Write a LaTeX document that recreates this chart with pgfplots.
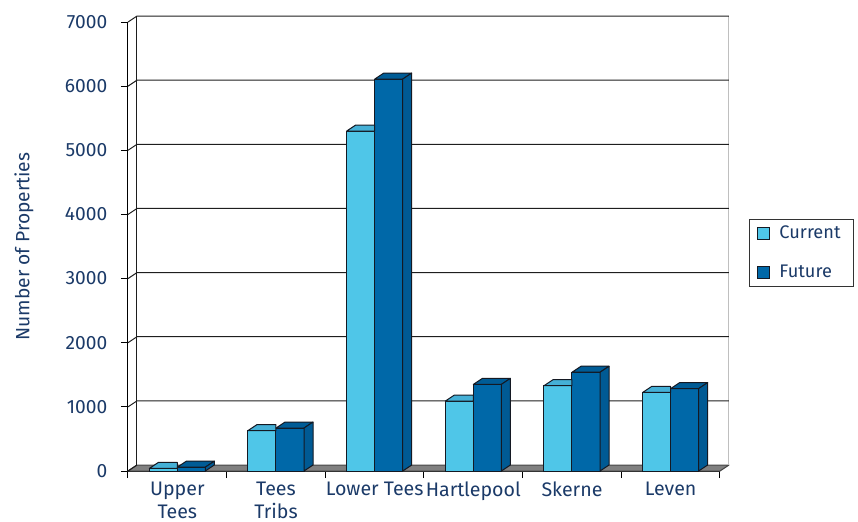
\documentclass[border=0pt]{standalone}
\usepackage{pgfplots}
\pgfplotsset{compat=1.18}
\usepackage{pgfplotstable}
\usepackage{fontspec}
\setmainfont{Fira Sans}
\definecolor{curfront}{RGB}{79,198,232}
\definecolor{curtop}{RGB}{69,176,214}
\definecolor{futfront}{RGB}{0,104,168}
\definecolor{futtop}{RGB}{0,92,150}
\definecolor{futside}{RGB}{0,90,148}
\definecolor{navy}{RGB}{27,58,104}
\definecolor{barline}{RGB}{20,25,35}
\definecolor{floorc}{RGB}{128,128,128}
\definecolor{flooredge}{RGB}{70,70,70}
\definecolor{gridc}{RGB}{30,30,30}

\pgfplotstableread{
x cur fut
0 40 60
1 630 670
2 5300 6110
3 1090 1350
4 1330 1540
5 1225 1285
}\data

% top face of the front (current) bar: its side is hidden behind the future bar
\pgfdeclareplotmark{cubecur}{%
  \path[fill=curtop,draw=barline,line width=0.5pt,line join=round]
    (-7pt,0pt) -- (-2.5pt,3pt) -- (7pt,3pt) -- (7pt,0pt) -- cycle;
}
\pgfdeclareplotmark{cubefut}{%
  \pgfmathsetlengthmacro\Hneg{-\h*0.0320714pt}%
  \pgfmathsetlengthmacro\Htop{3pt-\h*0.0320714pt}%
  \path[fill=futtop,draw=barline,line width=0.5pt,line join=round]
    (-7pt,0pt) -- (-2.5pt,3pt) -- (11.5pt,3pt) -- (7pt,0pt) -- cycle;
  \path[fill=futside,draw=barline,line width=0.5pt,line join=round]
    (7pt,0pt) -- (11.5pt,3pt) -- (11.5pt,\Htop) -- (7pt,\Hneg) -- cycle;
}

\begin{document}
\begin{tikzpicture}
\useasboundingbox (-64pt,-25pt) rectangle (365pt,235.5pt);
\begin{axis}[
  at={(0pt,0pt)}, anchor=south west,
  x=49.3333pt, y=0.0320714pt,
  xmin=-0.5, xmax=5.5, ymin=0, ymax=7000,
  clip=false,
  axis x line*=bottom, axis y line*=left,
  axis line style={black, line width=0.5pt},
  tick align=outside,
  major tick length=3.5pt,
  tick style={black, line width=0.5pt},
  ytick={0,1000,...,7000},
  xtick={-0.5,0.5,...,5.5},
  xticklabels={{Upper\\Tees},{Tees\\Tribs},{Lower Tees},{Hartlepool},{Skerne},{Leven},{}},
  xticklabel style={align=center, xshift=24.667pt, inner ysep=0pt, yshift=-1.6pt, font=\fontsize{9.8}{11.8}\selectfont, text=navy},
  yticklabel style={font=\fontsize{9.6}{11}\selectfont, text=navy, xshift=-3.3pt},
  /pgf/number format/assume math mode=true,
  /pgf/number format/1000 sep={},
  ylabel={Number of Properties},
  ylabel style={at={(axis description cs:0,0.5)}, anchor=center, yshift=52pt, font=\fontsize{9.6}{11}\selectfont, text=navy},
  legend style={at={(1,0.5)}, anchor=west, xshift=14.5pt, yshift=-3.25pt,
    draw=black!80, line width=0.5pt, font=\fontsize{9.1}{10}\selectfont, text=navy,
    inner xsep=4pt, inner ysep=1pt, row sep=8pt,
    /tikz/every odd column/.append style={column sep=2.5pt}},
  legend cell align=left,
]
% floor
\filldraw[fill=floorc, draw=flooredge, line width=0.5pt, line join=round]
  (axis cs:-0.5,0) -- ([shift={(4.5pt,3pt)}]axis cs:-0.5,0) -- ([shift={(4.5pt,3pt)}]axis cs:5.5,0) -- (axis cs:5.5,0) -- cycle;
% back wall
\draw[black!25, line width=0.5pt] ([shift={(4.5pt,3pt)}]axis cs:5.5,0) -- ([shift={(4.5pt,3pt)}]axis cs:5.5,7000);
\draw[gridc, line width=0.5pt] ([shift={(4.5pt,3pt)}]axis cs:-0.5,0) -- ([shift={(4.5pt,3pt)}]axis cs:-0.5,7000);
\pgfplotsinvokeforeach{1000,2000,3000,4000,5000,6000,7000}{
  \draw[gridc, line width=0.5pt] (axis cs:-0.5,#1) -- ([shift={(4.5pt,3pt)}]axis cs:-0.5,#1) -- ([shift={(4.5pt,3pt)}]axis cs:5.5,#1);
}
\draw[gridc, line width=0.5pt] (axis cs:-0.5,0) -- ([shift={(4.5pt,3pt)}]axis cs:-0.5,0);

\addplot[ybar, bar width=0.284, bar shift=-0.142, fill=curfront, draw=barline, line width=0.5pt,
  legend image code/.code={\draw[fill=curfront, draw=barline, line width=0.5pt] (0pt,-3pt) rectangle (6pt,3pt);}]
  table[x=x, y=cur]{\data};
\addlegendentry{Current\hspace*{0.5pt}}
\addplot[ybar, bar width=0.284, bar shift=0.142, fill=futfront, draw=barline, line width=0.5pt,
  legend image code/.code={\draw[fill=futfront, draw=barline, line width=0.5pt] (0pt,-3pt) rectangle (6pt,3pt);}]
  table[x=x, y=fut]{\data};
\addlegendentry{Future}
\addplot[only marks, mark=cubecur, forget plot]
  table[x expr=\thisrow{x}-0.142, y=cur]{\data};
\addplot[only marks, mark=cubefut, forget plot, visualization depends on={rawy \as \h}]
  table[x expr=\thisrow{x}+0.142, y=fut]{\data};
\end{axis}
\end{tikzpicture}
\end{document}
